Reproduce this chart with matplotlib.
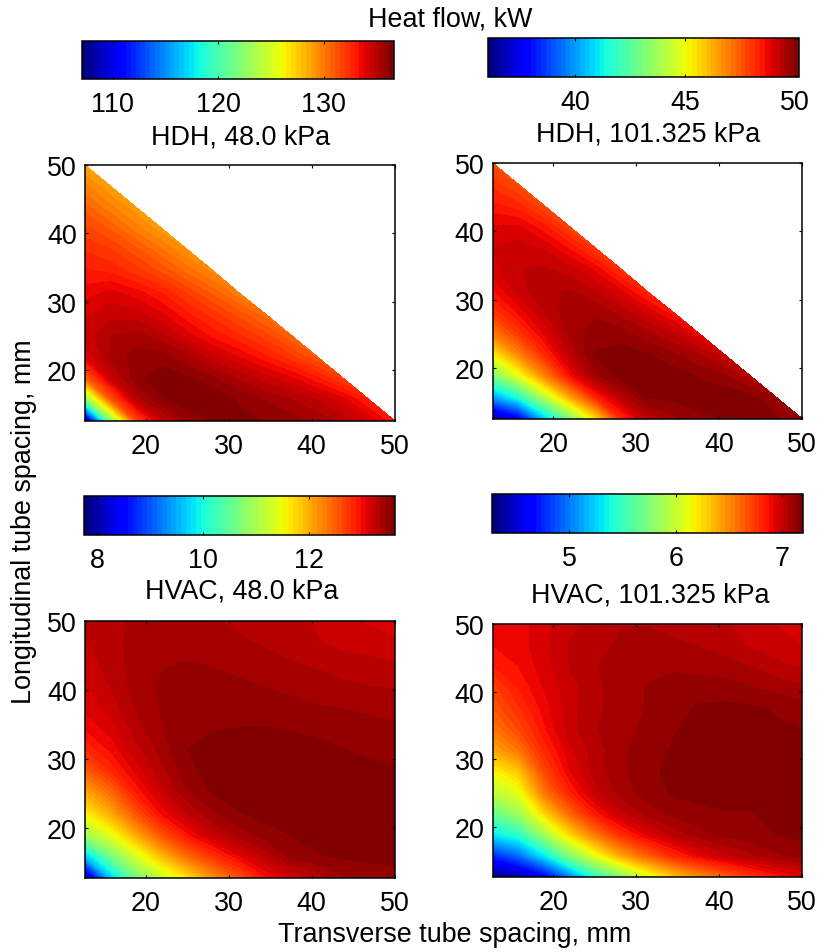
#heat flow maps for tube spacing, four cases
import matplotlib
matplotlib.use('Agg')
import matplotlib.pyplot as plt
import numpy as np

W, H = 818, 953
plt.rcParams['font.family'] = ['Liberation Sans', 'DejaVu Sans']
plt.rcParams['font.size'] = 19.4

spacing = [12.7, 15.8, 18.9, 22.0, 25.1, 28.2, 31.3, 34.5, 37.6, 40.7, 43.8, 46.9, 50.0]
ticks_xy = [20, 30, 40, 50]

# rows go from the lowest longitudinal spacing up, HDH rows stop at the diagonal
hdh_48 = [
    [107.5, 122, 131.5, 134.6, 135.7, 136.2, 136.3, 136.12, 135.9, 135.5, 135, 134.2, 133],
    [122, 131, 135, 136.1, 136.6, 136.5, 136.05, 135.6, 135.2, 134.7, 134, 132.8],
    [130.5, 134.5, 136, 136.4, 136.2, 135.7, 135.1, 134.5, 133.9, 133, 131.8],
    [133.9, 135.3, 135.9, 135.9, 135.3, 134.5, 133.8, 133, 132.1, 131],
    [134.5, 135.2, 135.4, 134.9, 134, 133.2, 132.5, 131.7, 130.6],
    [134.2, 134.6, 134.5, 133.9, 133, 132.2, 131.3, 130.3],
    [133.6, 134, 133.6, 132.9, 131.9, 130.9, 129.8],
    [133, 132.8, 132.2, 131.4, 130.4, 129.5],
    [132.4, 132, 131.2, 130.2, 129.2],
    [131.7, 131, 129.9, 128.9],
    [130.8, 129.8, 128.9],
    [129.8, 128.8],
    [128.6],
]
hdh_101 = [
    [36.3, 37.5, 40.5, 43, 45.5, 48.2, 49.3, 49.7, 49.9, 50, 50.05, 50, 49.8],
    [40, 41.5, 44, 46.3, 48.3, 49.4, 50, 50.05, 50.1, 50.15, 50.05, 49.8],
    [43, 44.8, 46.8, 48.6, 49.7, 50.1, 50.2, 50.1, 49.95, 49.8, 49.4],
    [45.2, 46.8, 48.2, 49.35, 50, 50.1, 50, 49.8, 49.55, 49.2],
    [47, 48, 48.9, 49.6, 49.9, 49.85, 49.6, 49.3, 48.8],
    [48, 48.7, 49.3, 49.7, 49.7, 49.45, 49.05, 48.5],
    [48.6, 49.2, 49.5, 49.55, 49.3, 48.9, 48.3],
    [49, 49.3, 49.35, 49.2, 48.8, 48.1],
    [49.1, 49.2, 49.05, 48.6, 47.95],
    [48.9, 48.9, 48.5, 47.8],
    [48.5, 48.3, 47.7],
    [48.1, 47.7],
    [47.7],
]
hvac_48 = [
    [7.9, 9.6, 10.6, 11.2, 11.65, 12.15, 12.55, 12.95, 13.15, 13.28, 13.42, 13.48, 13.5],
    [9.6, 10.6, 11.3, 11.9, 12.4, 12.75, 13.05, 13.28, 13.47, 13.52, 13.54, 13.55, 13.55],
    [10.9, 11.4, 12.0, 12.55, 12.95, 13.22, 13.38, 13.48, 13.53, 13.56, 13.58, 13.59, 13.58],
    [11.55, 12.0, 12.55, 13.0, 13.25, 13.42, 13.52, 13.56, 13.59, 13.61, 13.61, 13.6, 13.58],
    [12.0, 12.4, 12.9, 13.2, 13.42, 13.54, 13.58, 13.61, 13.62, 13.62, 13.61, 13.58, 13.56],
    [12.45, 12.8, 13.1, 13.32, 13.5, 13.57, 13.6, 13.61, 13.61, 13.6, 13.58, 13.55, 13.54],
    [12.8, 13.0, 13.22, 13.39, 13.53, 13.56, 13.57, 13.57, 13.57, 13.56, 13.53, 13.51, 13.5],
    [13.0, 13.12, 13.31, 13.43, 13.5, 13.52, 13.53, 13.53, 13.52, 13.5, 13.48, 13.46, 13.45],
    [13.1, 13.2, 13.36, 13.45, 13.48, 13.49, 13.49, 13.48, 13.46, 13.44, 13.43, 13.42, 13.41],
    [13.15, 13.26, 13.39, 13.45, 13.46, 13.46, 13.45, 13.43, 13.41, 13.38, 13.36, 13.34, 13.33],
    [13.2, 13.3, 13.38, 13.43, 13.44, 13.43, 13.41, 13.38, 13.35, 13.33, 13.3, 13.28, 13.26],
    [13.24, 13.32, 13.37, 13.4, 13.4, 13.39, 13.36, 13.33, 13.3, 13.26, 13.22, 13.2, 13.18],
    [13.27, 13.32, 13.36, 13.37, 13.37, 13.35, 13.32, 13.29, 13.27, 13.24, 13.18, 13.15, 13.1],
]
hvac_101 = [
    [4.3, 4.4, 4.6, 5.0, 5.45, 5.75, 6.05, 6.3, 6.48, 6.62, 6.75, 6.85, 6.92],
    [4.75, 4.95, 5.3, 5.75, 6.1, 6.4, 6.62, 6.8, 6.92, 7.0, 7.05, 7.1, 7.13],
    [5.3, 5.45, 5.85, 6.25, 6.55, 6.78, 6.93, 7.03, 7.09, 7.12, 7.14, 7.155, 7.165],
    [5.65, 5.85, 6.25, 6.6, 6.85, 7.0, 7.08, 7.12, 7.14, 7.15, 7.15, 7.17, 7.17],
    [5.95, 6.1, 6.55, 6.82, 7.0, 7.08, 7.13, 7.16, 7.17, 7.18, 7.18, 7.18, 7.18],
    [6.15, 6.3, 6.7, 6.92, 7.04, 7.1, 7.14, 7.17, 7.18, 7.19, 7.19, 7.19, 7.18],
    [6.4, 6.55, 6.8, 6.96, 7.04, 7.1, 7.13, 7.16, 7.17, 7.18, 7.18, 7.17, 7.17],
    [6.55, 6.7, 6.87, 7.0, 7.06, 7.09, 7.12, 7.15, 7.17, 7.17, 7.17, 7.16, 7.155],
    [6.65, 6.78, 6.9, 7.0, 7.05, 7.09, 7.11, 7.14, 7.16, 7.165, 7.16, 7.15, 7.13],
    [6.72, 6.84, 6.93, 7.0, 7.05, 7.09, 7.11, 7.13, 7.13, 7.13, 7.11, 7.09, 7.07],
    [6.83, 6.88, 6.95, 7.02, 7.06, 7.09, 7.1, 7.1, 7.09, 7.08, 7.06, 7.03, 7.01],
    [6.88, 6.9, 6.96, 7.02, 7.05, 7.07, 7.08, 7.07, 7.06, 7.04, 7.01, 6.99, 6.97],
    [6.93, 6.9, 6.96, 7.0, 7.04, 7.06, 7.06, 7.05, 7.04, 7.02, 7.0, 6.97, 6.95],
]

titles = ['HDH, 48.0 kPa', 'HDH, 101.325 kPa', 'HVAC, 48.0 kPa', 'HVAC, 101.325 kPa']
maps = [hdh_48, hdh_101, hvac_48, hvac_101]
limits = [(107.1, 136.6), (36.0, 50.2), (7.75, 13.62), (4.27, 7.2)]
cbar_ticks = [[110, 120, 130], [40, 45, 50], [8, 10, 12], [5, 6, 7]]

# pixel boxes: left, top, right, bottom
ax_boxes = [(85, 166, 394.5, 421.5), (492.7, 164, 802, 419.5),
            (85, 621.7, 394.5, 879), (492.7, 625, 802, 877.7)]
cb_boxes = [(82, 41.5, 393.5, 80), (487.7, 39, 799, 78),
            (84, 496.7, 395, 536), (492, 495, 803, 533.5)]
title_pos = [(241, 137), (648, 135), (242, 592), (650, 596)]


def add_axes_px(fig, box):
    l, t, r, b = box
    return fig.add_axes([l / W, 1 - b / H, (r - l) / W, (b - t) / H])


def text_px(fig, x, y, s, **kw):
    fig.text(x / W, 1 - y / H, s, ha='center', va='center', **kw)


jet64 = plt.get_cmap('jet', 64)
fig = plt.figure(figsize=(W / 100, H / 100), dpi=100)

for i in range(4):
    rows = [r + [np.nan] * (13 - len(r)) for r in maps[i]]
    Z = np.ma.masked_invalid(np.array(rows, dtype=float))
    ax = add_axes_px(fig, ax_boxes[i])
    levels = np.linspace(limits[i][0], limits[i][1], 65)
    cf = ax.contourf(spacing, spacing, Z, levels=levels, cmap=jet64)
    ax.set_xlim(12.7, 50)
    ax.set_ylim(12.7, 50)
    ax.set_xticks(ticks_xy)
    ax.set_yticks(ticks_xy)
    ax.tick_params(direction='in', top=True, right=True, length=2.5, width=0.8, pad=6)
    ax.tick_params(axis='x', pad=9)
    for s in ax.spines.values():
        s.set_linewidth(1.1)

    cax = add_axes_px(fig, cb_boxes[i])
    cb = fig.colorbar(cf, cax=cax, orientation='horizontal', ticks=cbar_ticks[i])
    cax.tick_params(direction='in', top=True, bottom=True, length=2.5, width=0.8, pad=9)
    cb.outline.set_linewidth(1.1)
    text_px(fig, title_pos[i][0], title_pos[i][1], titles[i])

text_px(fig, 450, 19, 'Heat flow, kW')
text_px(fig, 455, 935, 'Transverse tube spacing, mm')
text_px(fig, 24, 522, 'Longitudinal tube spacing, mm', rotation=90)

plt.savefig('out.png', dpi=100)
